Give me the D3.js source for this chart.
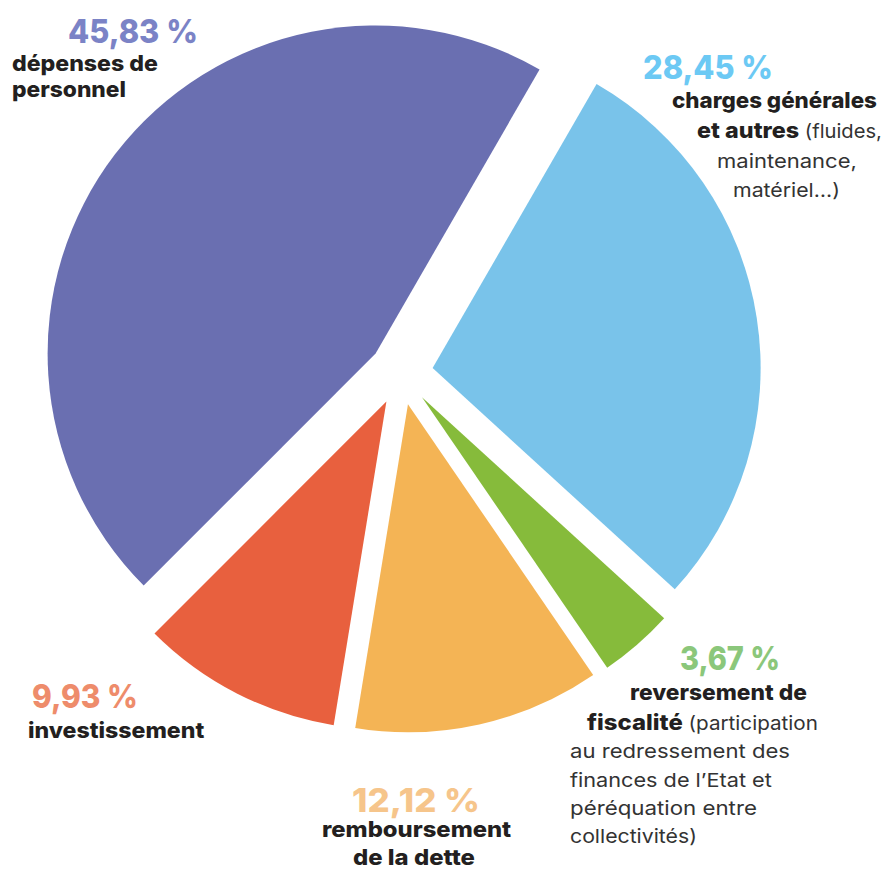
<!DOCTYPE html>
<html>
<head>
<meta charset="utf-8">
<style>
  body { margin: 0; background: #fff; }
  svg { display: block; }
  text { font-family: Inter, "Liberation Sans", sans-serif; }
</style>
</head>
<body>
<svg width="886" height="873"></svg>

<script src="https://d3js.org/d3.v7.min.js"></script>
<script>

// ---- data ----
var categories = ["dépenses de personnel", "charges générales et autres", "reversement de fiscalité",
                  "remboursement de la dette", "investissement"];
var shares     = [45.83, 28.45, 3.67, 12.12, 9.93];
var pctLabels  = ["45,83 %", "28,45 %", "3,67 %", "12,12 %", "9,93 %"];
var sliceColors = ["#6a6fb1", "#79c3ea", "#86bb3b", "#f4b455", "#e8603e"];
var pctColors   = ["#7b83c6", "#6cc9f4", "#8bc77b", "#f6c58b", "#ee8c6b"];

// label text, one entry per slice, each line = list of [text, bold]
var labelLines = [
  [ [["dépenses de", 1]], [["personnel", 1]] ],
  [ [["charges générales", 1]], [["et autres", 1], [" (fluides,", 0]], [["maintenance,", 0]], [["matériel…)", 0]] ],
  [ [["reversement de", 1]], [["fiscalité", 1], [" (participation", 0]], [["au redressement des", 0]],
    [["finances de l’Etat et", 0]], [["péréquation entre", 0]], [["collectivités)", 0]] ],
  [ [["remboursement", 1]], [["de la dette", 1]] ],
  [ [["investissement", 1]] ]
];

// ---- layout: [x, baseline, width] for the percent line then each text line ----
var labelPos = [
  [[68, 43, 130], [12, 71, 146], [12, 97, 114]],
  [[643, 79, 130], [672, 108, 205], [697, 138, 185], [717, 168, 140], [733, 197, 107]],
  [[680, 670, 100], [630, 700, 177], [587, 730, 231], [570, 758, 220], [570, 787, 202], [570, 815, 187], [570, 843, 127]],
  [[352, 812, 128], [322, 837, 190], [353, 865, 122]],
  [[32, 708, 106], [28, 738, 177]]
];

var svg = d3.select("svg"),
    cx = 401, cy = 373,
    radius = 328,
    explode = 32;

var g = svg.append("g").attr("transform", "translate(" + cx + "," + cy + ")");

var pie = d3.pie()
    .sort(null)
    .startAngle(-135 * Math.PI / 180)
    .endAngle(225 * Math.PI / 180)
    .value(function(d) { return d; });

var arc = d3.arc().innerRadius(0).outerRadius(radius);

g.selectAll("path.slice")
  .data(pie(shares))
  .join("path")
    .attr("class", "slice")
    .attr("d", arc)
    .attr("fill", function(d, i) { return sliceColors[i]; })
    .attr("transform", function(d) {
      var a = (d.startAngle + d.endAngle) / 2;
      return "translate(" + (Math.sin(a) * explode) + "," + (-Math.cos(a) * explode) + ")";
    });

// draw one line of text and stretch it to the width seen in the picture
function drawLine(segs, pos, size, color) {
  var t = svg.append("text")
      .attr("font-size", size)
      .attr("fill", color);
  segs.forEach(function(s) {
    t.append("tspan")
      .attr("font-weight", s[1] == 2 ? 800 : s[1] ? 800 : 400)
      .attr("font-size", s[1] ? null : 19)
      .attr("fill", s[1] ? null : "#333")
      .text(s[0]);
  });
  var w = t.node().getBBox().width;
  var sx = pos[2] / w;
  t.attr("transform", "translate(" + pos[0] + "," + pos[1] + ") scale(" + sx + ",1)");
}

labelLines.forEach(function(lines, i) {
  drawLine([[pctLabels[i], 2]], labelPos[i][0], 33, pctColors[i]);
  lines.forEach(function(segs, j) {
    drawLine(segs, labelPos[i][j + 1], 22, "#231f20");
  });
});

</script>
</body>
</html>
